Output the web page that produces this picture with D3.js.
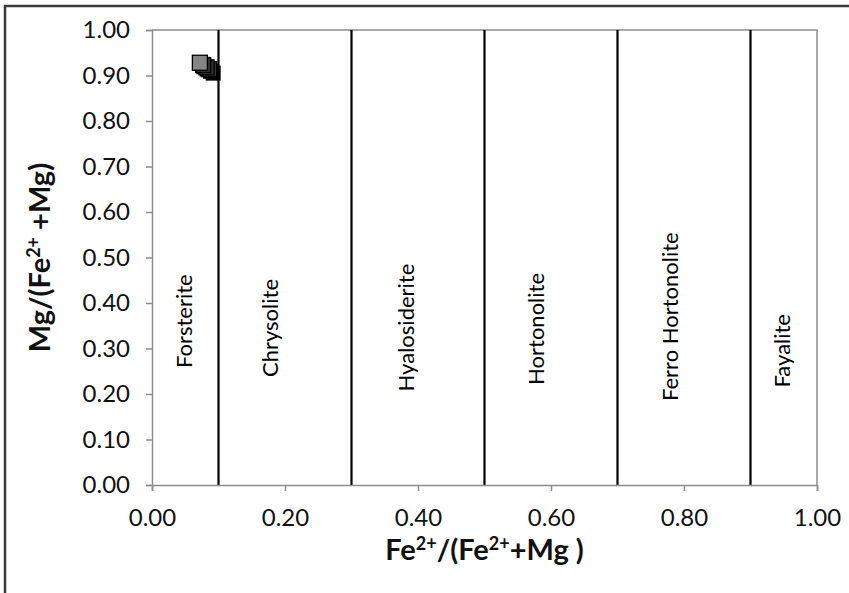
<!DOCTYPE html>
<html>
<head>
<meta charset="utf-8">
<script src="https://cdn.jsdelivr.net/npm/d3@7"></script>
<style>
  body { margin: 0; background: #fff; }
  svg { display: block; font-family: Lato, "Open Sans", sans-serif; }
</style>
</head>
<body>
<svg></svg>
<script>
//Setting
const width = 849;
const height = 593;
const margin = { top: 30, right: 32, bottom: 108, left: 152 };

//Data
const xTicks = [0, 0.2, 0.4, 0.6, 0.8, 1.0];
const yTicks = [0, 0.1, 0.2, 0.3, 0.4, 0.5, 0.6, 0.7, 0.8, 0.9, 1.0];
const boundaries = [0.1, 0.3, 0.5, 0.7, 0.9];
const fields = ["Forsterite", "Chrysolite", "Hyalosiderite", "Hortonolite", "Ferro Hortonolite", "Fayalite"];
const fieldX = [0.049, 0.178, 0.382, 0.578, 0.779, 0.948];
const fieldY = [0.36, 0.345, 0.346, 0.343, 0.37, 0.295];
const feRatio = [0.086, 0.082, 0.077, 0.072];
const mgRatio = [0.914, 0.918, 0.923, 0.928];

const svg = d3.select("svg")
  .attr("width", width)
  .attr("height", height);

const x = d3.scaleLinear().domain([0, 1]).range([margin.left, width - margin.right]);
const y = d3.scaleLinear().domain([0, 1]).range([height - margin.bottom, margin.top]);

// outer chart border
svg.append("rect")
  .attr("x", 5).attr("y", 6)
  .attr("width", width + 10).attr("height", height + 10)
  .attr("fill", "none")
  .attr("stroke", "#3a3a3a")
  .attr("stroke-width", 2.5);

// plot frame (top + right)
svg.append("path")
  .attr("d", `M${x(0)},${y(1)}H${x(1)}V${y(0)}`)
  .attr("fill", "none")
  .attr("stroke", "#8c8c8c")
  .attr("stroke-width", 1.5);

// field boundaries
svg.append("g")
  .selectAll("line")
  .data(boundaries)
  .enter()
  .append("line")
  .attr("x1", d => x(d)).attr("x2", d => x(d))
  .attr("y1", y(1)).attr("y2", y(0))
  .attr("stroke", "#000")
  .attr("stroke-width", 2.2);

// axes
const xAxis = svg.append("g")
  .attr("transform", `translate(0,${y(0)})`)
  .call(d3.axisBottom(x).tickValues(xTicks).tickFormat(d3.format(".2f")).tickSizeOuter(0).tickSize(6).tickPadding(18));
const yAxis = svg.append("g")
  .attr("transform", `translate(${x(0)},0)`)
  .call(d3.axisLeft(y).tickValues(yTicks).tickFormat(d3.format(".2f")).tickSizeOuter(0).tickSize(6).tickPadding(16));

[xAxis, yAxis].forEach(a => {
  a.select(".domain").attr("stroke", "#8c8c8c").attr("stroke-width", 1.5);
  a.selectAll(".tick line").attr("stroke", "#8c8c8c").attr("stroke-width", 1.5);
  a.selectAll(".tick text")
    .attr("fill", "#111")
    .style("font-family", "Lato, sans-serif")
    .style("font-size", "24px");
});

// field names
svg.append("g")
  .selectAll("text")
  .data(fields)
  .enter()
  .append("text")
  .attr("transform", (d, i) => `translate(${x(fieldX[i])},${y(fieldY[i])}) rotate(-90)`)
  .attr("text-anchor", "middle")
  .attr("dy", "0.35em")
  .style("font-size", "22px")
  .attr("fill", "#000")
  .text(d => d);

// points with shadow
const pts = svg.append("g");
const s = 15;
pts.selectAll(".shadow")
  .data(feRatio)
  .enter()
  .append("rect")
  .attr("class", "shadow")
  .attr("x", (d, i) => x(d) - s / 2 + 4)
  .attr("y", (d, i) => y(mgRatio[i]) - s / 2 + 4)
  .attr("width", s).attr("height", s)
  .attr("fill", "#000");
pts.selectAll(".pt")
  .data(feRatio)
  .enter()
  .append("rect")
  .attr("class", "pt")
  .attr("x", (d, i) => x(d) - s / 2)
  .attr("y", (d, i) => y(mgRatio[i]) - s / 2)
  .attr("width", s).attr("height", s)
  .attr("fill", (d, i) => i === feRatio.length - 1 ? "#858585" : "#333")
  .attr("stroke", "#000")
  .attr("stroke-width", 1.3);

// axis titles
const xt = svg.append("text")
  .attr("x", x(0.5)).attr("y", 560)
  .attr("text-anchor", "middle")
  .style("font-size", "29px")
  .style("font-weight", "bold")
  .attr("fill", "#111");
xt.append("tspan").text("Fe");
xt.append("tspan").attr("dy", -10).style("font-size", "18px").text("2+");
xt.append("tspan").attr("dy", 10).text("/(Fe");
xt.append("tspan").attr("dy", -10).style("font-size", "18px").text("2+");
xt.append("tspan").attr("dy", 10).text("+Mg )");

const yt = svg.append("text")
  .attr("transform", `translate(50,${y(0.5)}) rotate(-90)`)
  .attr("text-anchor", "middle")
  .style("font-size", "29px")
  .style("font-weight", "bold")
  .attr("fill", "#111");
yt.append("tspan").text("Mg/(Fe");
yt.append("tspan").attr("dy", -10).style("font-size", "18px").text("2+");
yt.append("tspan").attr("dy", 10).text(" +Mg)");
</script>
</body>
</html>
